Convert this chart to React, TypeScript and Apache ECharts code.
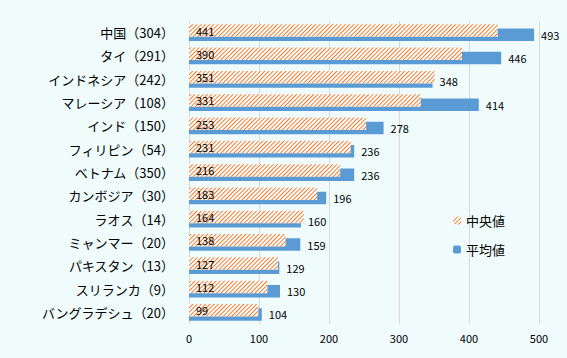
import React, { useEffect, useRef } from "react";
import * as echarts from "echarts";

const categories = [
  "中国（304）",
  "タイ（291）",
  "インドネシア（242）",
  "マレーシア（108）",
  "インド（150）",
  "フィリピン（54）",
  "ベトナム（350）",
  "カンボジア（30）",
  "ラオス（14）",
  "ミャンマー（20）",
  "パキスタン（13）",
  "スリランカ（9）",
  "バングラデシュ（20）",
];
const medianValues = [441, 390, 351, 331, 253, 231, 216, 183, 164, 138, 127, 112, 99];
const meanValues = [493, 446, 348, 414, 278, 236, 236, 196, 160, 159, 129, 130, 104];
const xTicks = [0, 100, 200, 300, 400, 500];
const seriesNames = ["中央値", "平均値"];

export default function App() {
  const ref = useRef<HTMLDivElement>(null);
  useEffect(() => {
    if (!ref.current) return;
    const chart = echarts.init(ref.current, undefined, { renderer: "svg" });
    const decal = {
      symbol: "rect",
      symbolSize: 1,
      color: "#ED7D31",
      backgroundColor: "#ffffff",
      dashArrayX: [1, 0],
      dashArrayY: [0.9, 1.9],
      rotation: -Math.PI / 4,
    };
    const font = "'Noto Sans CJK JP', 'Noto Sans', sans-serif";
    chart.setOption({
      animation: false,
      backgroundColor: "#F0FCFC",
      textStyle: { fontFamily: font },
      grid: { left: 189, right: 28, top: 21, bottom: 34, containLabel: false },
      legend: {
        orient: "vertical",
        left: 448,
        top: 209,
        itemWidth: 8,
        itemHeight: 8,
        itemGap: 16,
        textStyle: { fontSize: 13, color: "#000", fontFamily: font },
        data: [seriesNames[0], seriesNames[1]],
      },
      xAxis: {
        type: "value",
        min: xTicks[0],
        max: xTicks[xTicks.length - 1],
        interval: 100,
        axisLine: { show: false },
        axisTick: { show: false },
        axisLabel: { color: "#000", fontSize: 11, margin: 8, fontFamily: font },
        splitLine: { show: true, lineStyle: { color: "#D9D9D9", width: 1 } },
      },
      yAxis: {
        type: "category",
        data: categories,
        inverse: true,
        axisLine: { show: false },
        axisTick: { show: false },
        axisLabel: { color: "#000", fontSize: 13, margin: 15, fontFamily: font },
      },
      series: [
        {
          name: seriesNames[0],
          type: "bar",
          data: medianValues,
          barWidth: 12.5,
          barGap: "-66%",
          z: 3,
          itemStyle: { color: "#ffffff", decal },
          label: {
            show: true,
            position: "insideLeft",
            offset: [2, 0],
            color: "#000",
            fontSize: 11,
            fontFamily: font,
          },
        },
        {
          name: seriesNames[1],
          type: "bar",
          data: meanValues,
          barWidth: 12.5,
          z: 2,
          itemStyle: { color: "#5B9BD5" },
          label: {
            show: true,
            position: "right",
            distance: 7,
            color: "#000",
            fontSize: 11,
            fontFamily: font,
          },
        },
      ],
    });
    return () => chart.dispose();
  }, []);
  return <div ref={ref} style={{ width: 567, height: 358, position: "absolute", left: 0, top: 0 }} />;
}
